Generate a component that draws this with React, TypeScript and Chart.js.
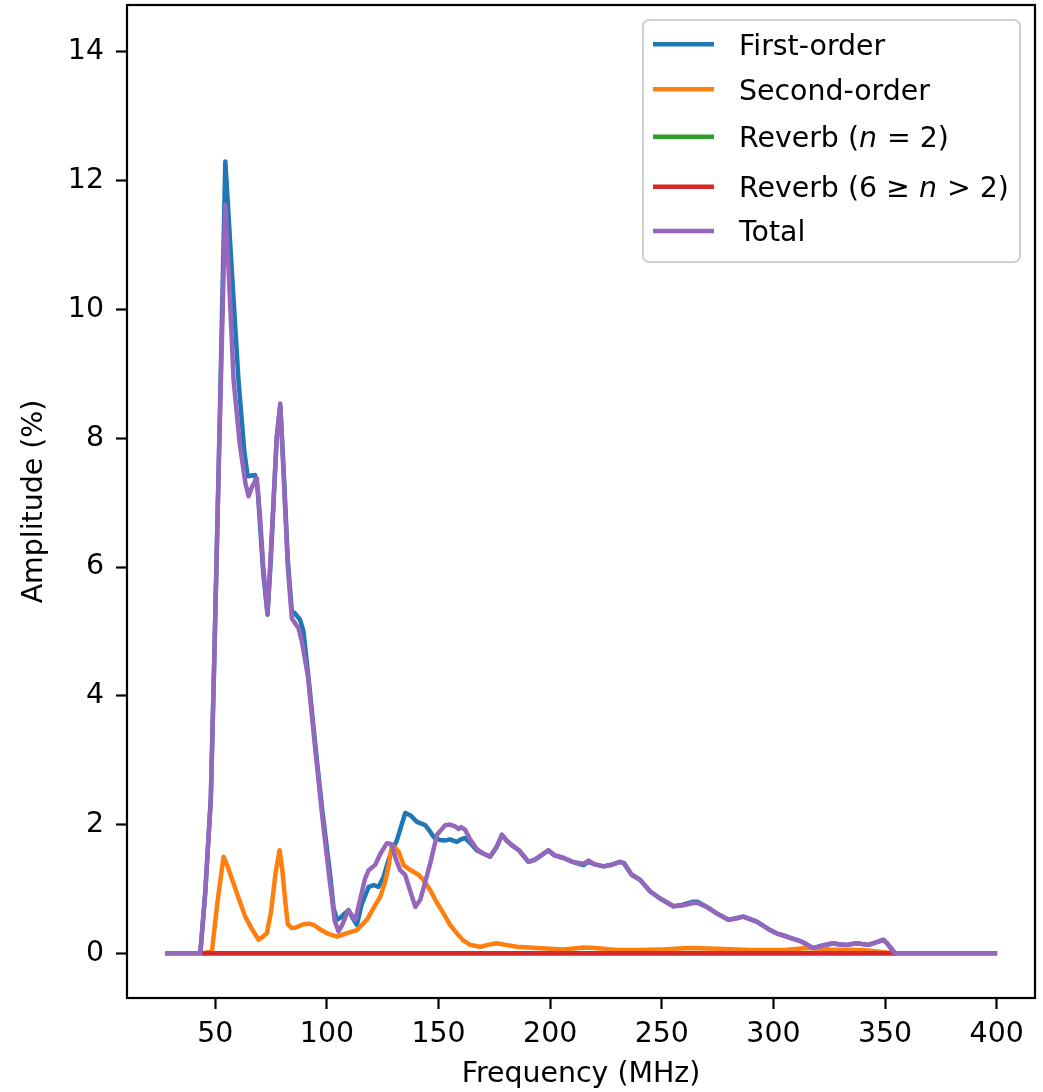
import React, { useEffect, useRef } from 'react';
import { Chart, registerables } from 'chart.js';

Chart.register(...registerables);

// ---------- data ----------
const xTicks = [50, 100, 150, 200, 250, 300, 350, 400];
const yTicks = [0, 2, 4, 6, 8, 10, 12, 14];

const firstFreq = [28.5, 43.3, 45.5, 48, 49.5, 51.5, 54.5, 57.5, 60.4, 63, 64.5, 67.8, 69, 71.5, 73.4, 75, 77.5, 79.1, 80.5, 82.5, 84.3, 85.4, 88, 89.5, 92, 95.5, 98, 101.5, 103, 104.5, 106, 108, 109.7, 111.5, 113.4, 115.5, 118.7, 121, 123.1, 125.4, 127.6, 129.5, 131.4, 133.5, 135.1, 137.5, 140.3, 144, 146, 148, 150.7, 153, 155, 158.2, 160, 161.9, 164, 167.1, 170, 173.1, 176, 178.4, 180.5, 182.8, 186, 190.3, 193, 196, 199.2, 202, 206, 210, 214.9, 217.1, 220, 223.9, 227, 231.3, 233, 236.5, 240.3, 244.8, 249.2, 255.2, 259, 264.1, 266, 270.1, 274.6, 279.8, 283, 286.5, 292.5, 298.5, 302, 305.9, 312.7, 317.9, 322, 326.8, 329, 332.8, 337.3, 342.5, 347, 349.2, 351, 354.4, 399.2];
const firstAmp = [0, 0, 0.94, 2.4, 4.5, 7.5, 12.3, 10.55, 8.9, 7.8, 7.41, 7.43, 7.2, 5.9, 5.26, 6.2, 8.0, 8.5, 7.6, 6.1, 5.3, 5.29, 5.18, 5.0, 4.2, 3.0, 2.2, 1.2, 0.7, 0.52, 0.55, 0.62, 0.67, 0.55, 0.44, 0.75, 1.03, 1.06, 1.03, 1.19, 1.45, 1.62, 1.76, 2.0, 2.18, 2.14, 2.04, 1.99, 1.9, 1.8, 1.76, 1.75, 1.77, 1.73, 1.77, 1.79, 1.72, 1.6, 1.55, 1.5, 1.65, 1.84, 1.75, 1.68, 1.6, 1.42, 1.45, 1.52, 1.6, 1.52, 1.48, 1.42, 1.37, 1.42, 1.38, 1.35, 1.37, 1.42, 1.4, 1.22, 1.14, 0.96, 0.85, 0.73, 0.75, 0.8, 0.8, 0.72, 0.62, 0.52, 0.54, 0.57, 0.49, 0.36, 0.3, 0.26, 0.18, 0.08, 0.12, 0.155, 0.14, 0.13, 0.155, 0.13, 0.18, 0.21, 0.15, 0, 0];

const secondFreq = [44.8, 48.5, 51, 53.7, 55.5, 57.5, 60.5, 63.4, 66, 69.4, 71, 73.1, 75, 77, 78.8, 80, 81.5, 82.5, 84.3, 86, 89.5, 92, 94, 97, 100, 104.5, 108, 113.4, 117.9, 120, 123.9, 126, 127.6, 129.1, 130.5, 132.1, 134.3, 137, 141, 143, 146.3, 149, 152.2, 155, 158.2, 161, 164.2, 168.7, 172, 176.1, 180, 185.1, 194, 200, 206, 214.9, 220, 230, 240, 250, 262, 275, 290, 305, 315, 325, 340, 353.7];
const secondAmp = [0, 0.03, 0.8, 1.5, 1.35, 1.15, 0.85, 0.57, 0.4, 0.21, 0.25, 0.31, 0.65, 1.25, 1.6, 1.3, 0.75, 0.45, 0.39, 0.4, 0.45, 0.46, 0.44, 0.37, 0.31, 0.26, 0.3, 0.36, 0.52, 0.65, 0.88, 1.1, 1.35, 1.68, 1.64, 1.58, 1.37, 1.3, 1.22, 1.15, 0.98, 0.8, 0.62, 0.45, 0.31, 0.2, 0.13, 0.1, 0.13, 0.155, 0.13, 0.1, 0.08, 0.07, 0.06, 0.09, 0.08, 0.05, 0.05, 0.06, 0.08, 0.07, 0.05, 0.05, 0.08, 0.06, 0.05, 0];

const reverbFreq = [44.8, 100, 200, 300, 353.7];
const reverb2Amp = [0, 0, 0, 0, 0];
const reverbHighAmp = [0, 0, 0, 0, 0];

const totalFreq = [28.5, 43.3, 45.5, 48, 49.5, 51.5, 54.5, 56, 58.2, 61, 63.5, 64.9, 66.5, 68.6, 70, 71.5, 73.4, 75, 77.5, 79.1, 80.5, 82.5, 84.3, 87.3, 88.8, 91.5, 95, 98, 101, 103.5, 105.2, 107, 109.4, 111, 112.7, 115, 117, 118.7, 121.6, 124, 126.9, 129.1, 131, 132.8, 135, 137, 139.6, 141.8, 144, 146.3, 149.3, 153, 155, 157.5, 159, 160, 161.9, 164, 167.1, 170, 173.1, 176, 178.4, 180.5, 182.8, 186, 190.3, 193, 196, 199.2, 202, 206, 210, 214.9, 217.1, 220, 223.9, 227, 231.3, 233, 236.5, 240.3, 244.8, 249.2, 255.2, 259, 264.1, 266, 270.1, 274.6, 279.8, 283, 286.5, 292.5, 298.5, 302, 305.9, 312.7, 317.9, 322, 326.8, 329, 332.8, 337.3, 342.5, 347, 349.2, 351, 354.4, 399.2];
const totalAmp = [0, 0, 0.94, 2.4, 4.5, 7.5, 11.63, 10.6, 8.9, 7.9, 7.3, 7.1, 7.25, 7.38, 6.8, 6.0, 5.28, 6.3, 8.0, 8.54, 7.5, 6.0, 5.2, 5.05, 4.84, 4.3, 3.1, 2.1, 1.2, 0.5, 0.34, 0.45, 0.66, 0.6, 0.52, 0.85, 1.15, 1.29, 1.37, 1.55, 1.71, 1.69, 1.45, 1.29, 1.22, 1.0, 0.72, 0.83, 1.1, 1.4, 1.84, 1.99, 2.0, 1.97, 1.93, 1.96, 1.92, 1.78, 1.62, 1.55, 1.5, 1.65, 1.84, 1.75, 1.68, 1.6, 1.42, 1.45, 1.52, 1.6, 1.52, 1.48, 1.42, 1.39, 1.44, 1.38, 1.35, 1.37, 1.42, 1.4, 1.22, 1.14, 0.96, 0.85, 0.73, 0.74, 0.78, 0.78, 0.72, 0.62, 0.52, 0.54, 0.57, 0.49, 0.36, 0.3, 0.26, 0.18, 0.08, 0.12, 0.155, 0.14, 0.13, 0.155, 0.13, 0.18, 0.21, 0.15, 0, 0];

const seriesLabels = ['First-order', 'Second-order', 'Reverb (n = 2)', 'Reverb (6 ≥ n > 2)', 'Total'];
// legend text pieces: [text, italic]
const legendPieces: [string, boolean][][] = [
  [['First-order', false]],
  [['Second-order', false]],
  [['Reverb (', false], ['n', true], [' = 2)', false]],
  [['Reverb (6 ≥ ', false], ['n', true], [' > 2)', false]],
  [['Total', false]],
];

// ---------- style ----------
const COLORS = ['#1f77b4', '#ff7f0e', '#2ca02c', '#d62728', '#9467bd'];
const FONT_FAMILY = "'DejaVu Sans', 'Noto Sans', sans-serif";
const FONT_SIZE = 28.4;
const LINE_W = 4.5;

function toPoints(xs: number[], ys: number[]) {
  const n = Math.min(xs.length, ys.length);
  const out: { x: number; y: number }[] = [];
  for (let i = 0; i < n; i++) out.push({ x: xs[i], y: ys[i] });
  return out;
}

const framePlugin = {
  id: 'mplFrame',
  afterDatasetsDraw(chart: any) {
    const { ctx, chartArea: a } = chart;
    ctx.save();
    ctx.strokeStyle = '#000';
    ctx.lineWidth = 2.2;
    ctx.strokeRect(a.left, a.top, a.right - a.left, a.bottom - a.top);
    ctx.restore();
  },
  afterDraw(chart: any) {
    const { ctx, chartArea: a } = chart;
    const boxW = 377;
    const boxH = 242;
    const bx = a.right - 15 - boxW;
    const by = a.top + 15;
    const r = 6;
    ctx.save();
    ctx.beginPath();
    ctx.moveTo(bx + r, by);
    ctx.lineTo(bx + boxW - r, by);
    ctx.arcTo(bx + boxW, by, bx + boxW, by + r, r);
    ctx.lineTo(bx + boxW, by + boxH - r);
    ctx.arcTo(bx + boxW, by + boxH, bx + boxW - r, by + boxH, r);
    ctx.lineTo(bx + r, by + boxH);
    ctx.arcTo(bx, by + boxH, bx, by + boxH - r, r);
    ctx.lineTo(bx, by + r);
    ctx.arcTo(bx, by, bx + r, by, r);
    ctx.closePath();
    ctx.fillStyle = 'rgba(255,255,255,0.8)';
    ctx.fill();
    ctx.strokeStyle = '#d0d0d0';
    ctx.lineWidth = 2;
    ctx.stroke();

    const rows = [24.3, 69.3, 116.7, 166.7, 211];
    legendPieces.forEach((pieces, i) => {
      const y = by + rows[i];
      ctx.beginPath();
      ctx.strokeStyle = COLORS[i];
      ctx.lineWidth = LINE_W;
      ctx.lineCap = 'butt';
      ctx.moveTo(bx + 10, y);
      ctx.lineTo(bx + 71, y);
      ctx.stroke();
      let x = bx + 96;
      ctx.fillStyle = '#000';
      ctx.textBaseline = 'alphabetic';
      ctx.textAlign = 'left';
      pieces.forEach(([t, it]) => {
        ctx.font = `${it ? 'italic ' : ''}${FONT_SIZE}px ${FONT_FAMILY}`;
        ctx.fillText(t, x, y + 10.3);
        x += ctx.measureText(t).width + (it ? 1 : 0);
      });
    });
    ctx.restore();
  },
};

export default function App() {
  const ref = useRef<HTMLCanvasElement | null>(null);

  useEffect(() => {
    if (!ref.current) return;
    Chart.defaults.font.family = FONT_FAMILY;
    const seriesData = [
      toPoints(firstFreq, firstAmp),
      toPoints(secondFreq, secondAmp),
      toPoints(reverbFreq, reverb2Amp),
      toPoints(reverbFreq, reverbHighAmp),
      toPoints(totalFreq, totalAmp),
    ];
    const chart = new Chart(ref.current, {
      type: 'line',
      data: {
        datasets: seriesData.map((d, i) => ({
          label: seriesLabels[i],
          data: d,
          borderColor: COLORS[i],
          backgroundColor: COLORS[i],
          borderWidth: LINE_W,
          pointRadius: 0,
          fill: false,
          tension: 0,
          borderJoinStyle: 'round',
          borderCapStyle: 'square',
          order: 5 - i,
        })),
      },
      options: {
        animation: false,
        responsive: false,
        devicePixelRatio: 1,
        layout: { padding: { left: 0, right: 8, top: 5, bottom: 0 } },
        plugins: { legend: { display: false }, tooltip: { enabled: false } },
        scales: {
          x: {
            type: 'linear',
            min: 10.46,
            max: 417.15,
            afterBuildTicks: (s: any) => {
              s.ticks = xTicks.map((v) => ({ value: v }));
            },
            afterFit: (s: any) => {
              s.height = 94;
              s.paddingLeft = 0;
              s.paddingRight = 0;
            },
            grid: { display: true, drawOnChartArea: false, drawTicks: true, tickLength: 11, tickWidth: 2.2, tickColor: '#000' },
            border: { display: false },
            ticks: {
              autoSkip: false,
              maxRotation: 0,
              padding: 9,
              color: '#000',
              font: { size: FONT_SIZE, family: FONT_FAMILY },
              callback: (v: any) => String(v),
            },
            title: {
              display: true,
              text: 'Frequency (MHz)',
              color: '#000',
              font: { size: FONT_SIZE, family: FONT_FAMILY },
              padding: { top: 0, bottom: 0 },
            },
          },
          y: {
            type: 'linear',
            min: -0.695,
            max: 14.73,
            afterBuildTicks: (s: any) => {
              s.ticks = yTicks.map((v) => ({ value: v }));
            },
            afterFit: (s: any) => {
              s.width = 127;
              s.paddingTop = 0;
              s.paddingBottom = 0;
            },
            grid: { display: true, drawOnChartArea: false, drawTicks: true, tickLength: 11, tickWidth: 2.2, tickColor: '#000' },
            border: { display: false },
            ticks: {
              padding: 12,
              color: '#000',
              font: { size: FONT_SIZE, family: FONT_FAMILY },
              callback: (v: any) => String(v),
            },
            title: {
              display: true,
              text: 'Amplitude (%)',
              color: '#000',
              font: { size: FONT_SIZE, family: FONT_FAMILY },
              padding: { top: 18, bottom: 0 },
            },
          },
        },
      },
      plugins: [framePlugin],
    } as any);
    return () => chart.destroy();
  }, []);

  return (
    <div style={{ position: 'absolute', left: 0, top: 0, width: 1043, height: 1092, background: '#fff' }}>
      <canvas ref={ref} width={1043} height={1092} style={{ display: 'block', width: 1043, height: 1092 }} />
    </div>
  );
}
